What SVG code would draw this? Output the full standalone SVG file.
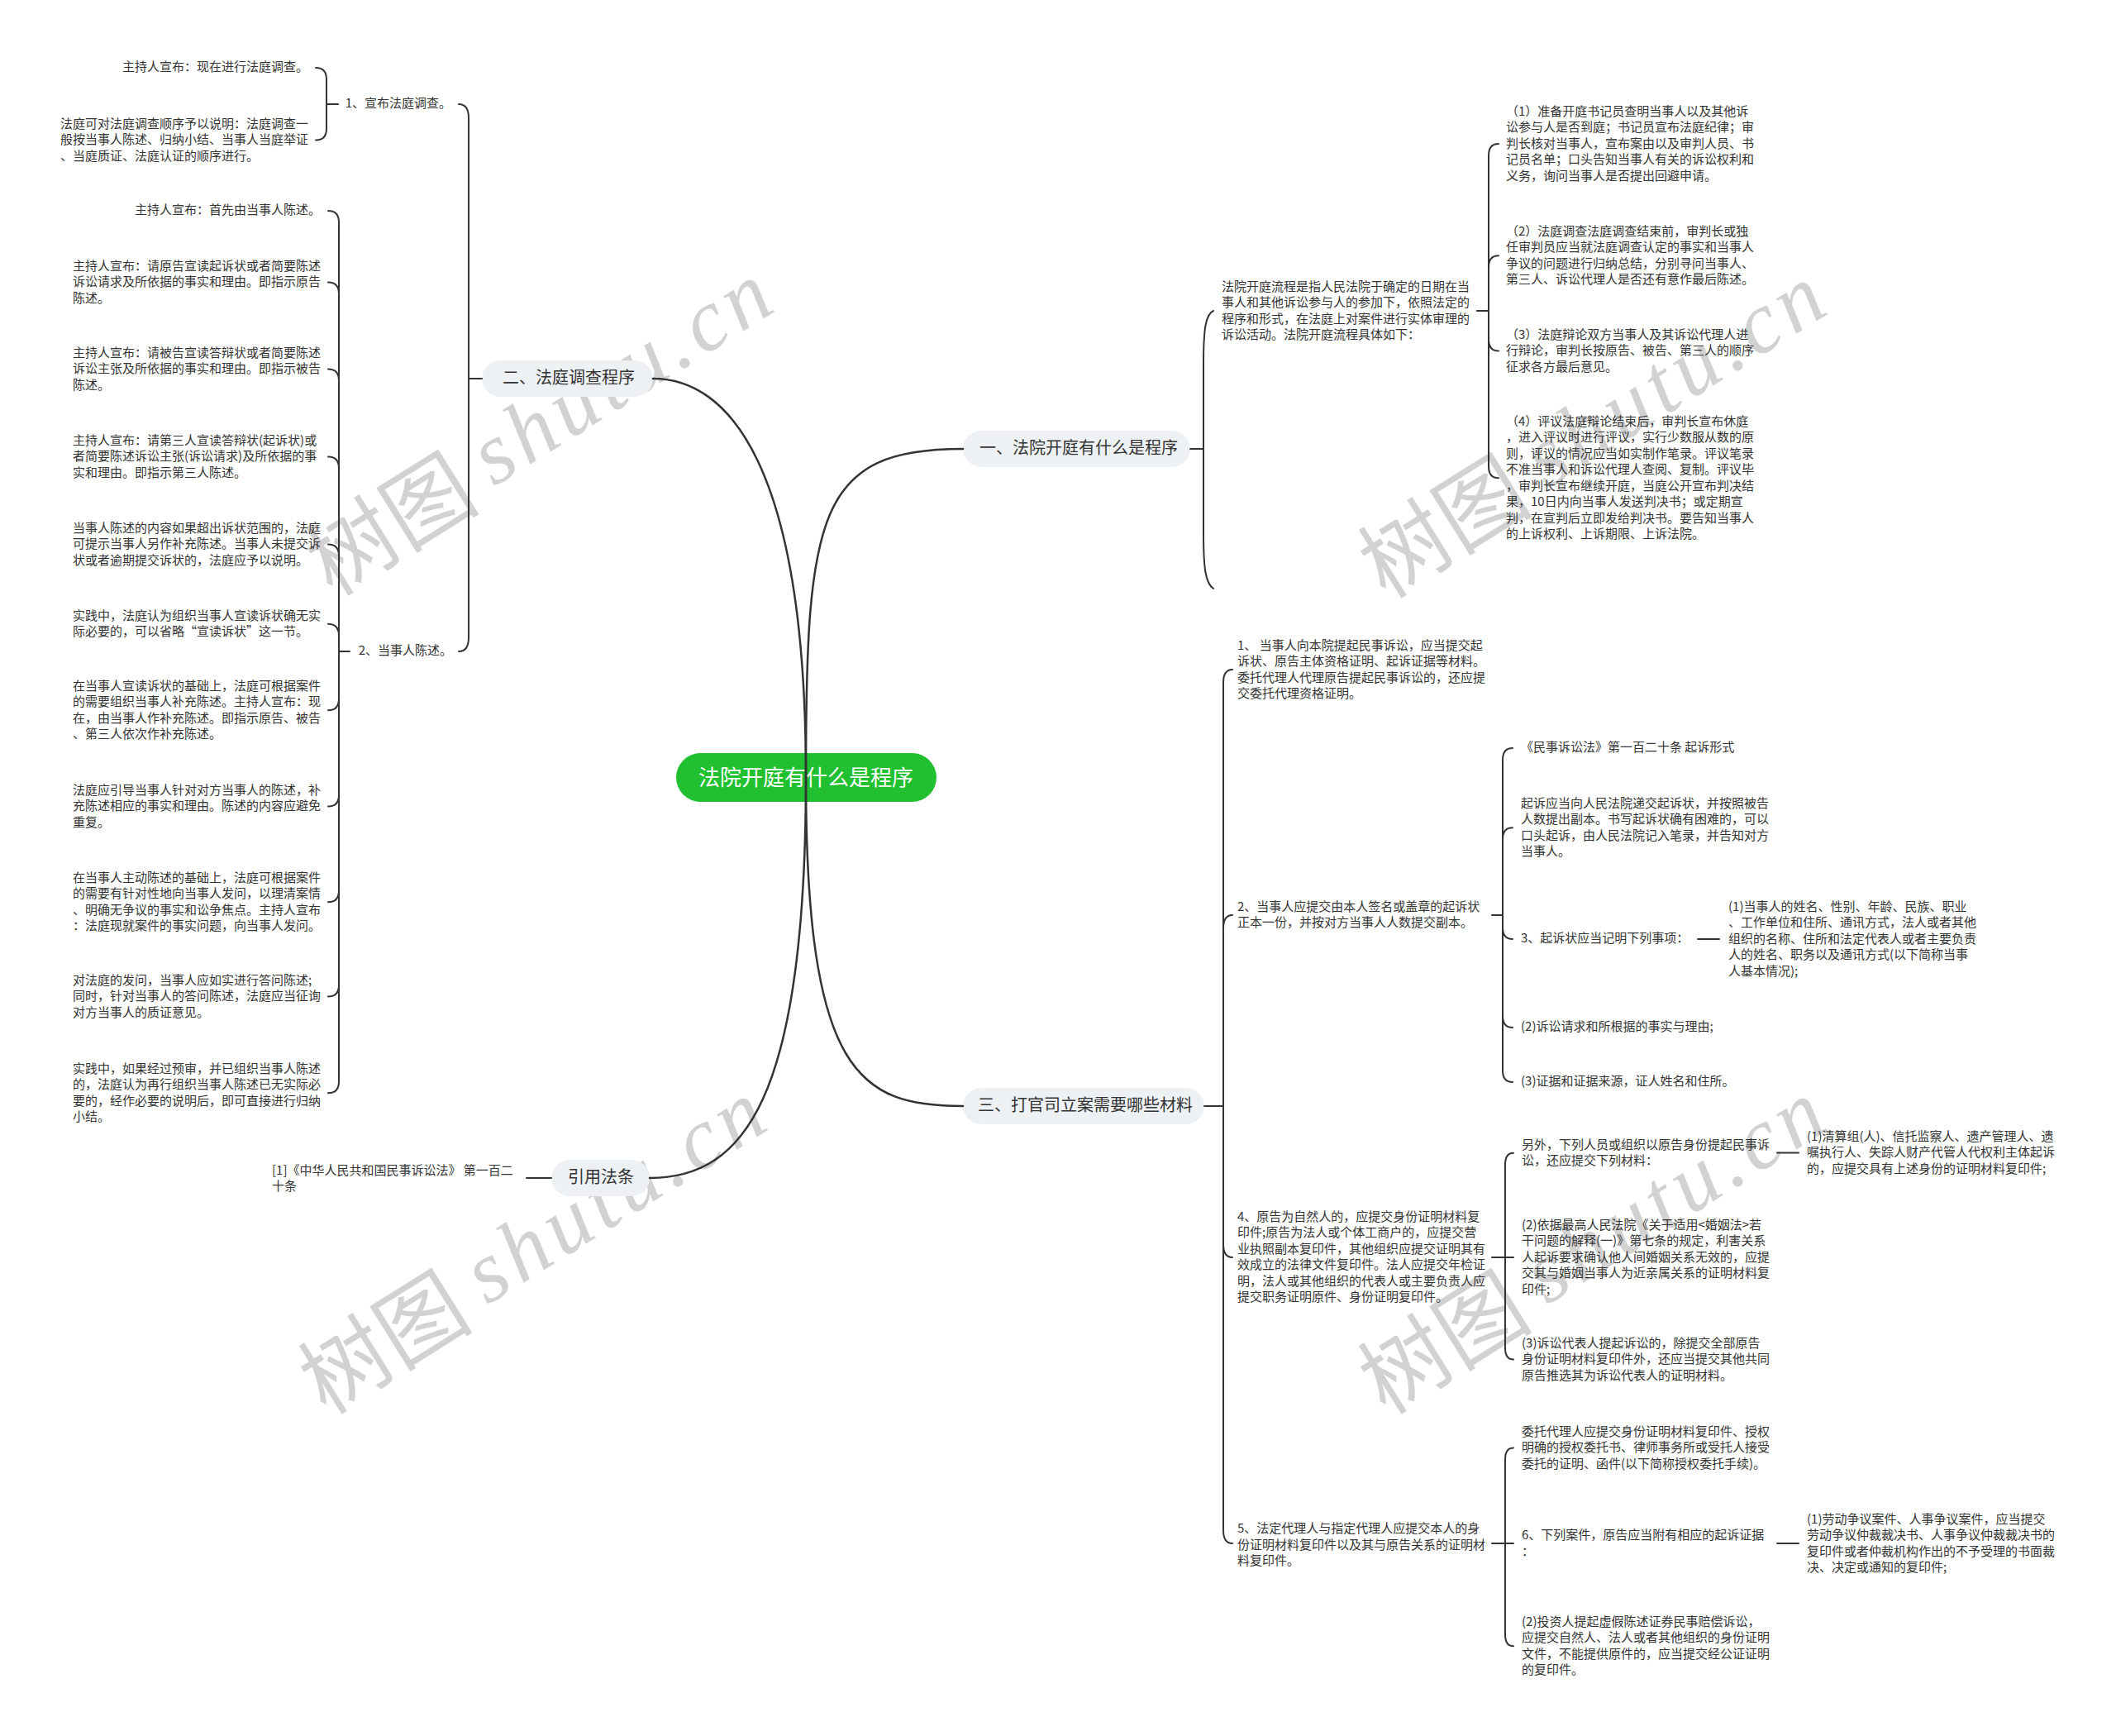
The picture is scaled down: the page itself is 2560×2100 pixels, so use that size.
<svg xmlns="http://www.w3.org/2000/svg" width="2560" height="2100" viewBox="0 0 2560 2100">
<style>
.t{font-family:'Noto Sans CJK SC','Noto Sans',sans-serif;font-size:15px;fill:#333;dominant-baseline:central;transform:translateY(-2.5px)}
.e{text-anchor:end}
.b{font-size:20px;text-anchor:middle}
.r{font-size:26px;fill:#fff;text-anchor:middle}
.pill{fill:#eef1f4}
.c{fill:none;stroke:#333;stroke-width:2;stroke-linecap:round}
.m{stroke-width:2.5}
.wm{fill:#d2d2d2;font-size:106px;text-anchor:middle;dominant-baseline:central}
.wc{font-family:'Noto Sans CJK SC',sans-serif}
.wl{font-family:'Liberation Serif',serif;font-style:italic;letter-spacing:7px}
</style>
<rect width="2560" height="2100" fill="#fff"/>
<g id="watermark">
<text class="wm" transform="translate(653,512) rotate(-32)"><tspan class="wc">树图 </tspan><tspan class="wl">shutu.cn</tspan></text>
<text class="wm" transform="translate(1927,515) rotate(-32)"><tspan class="wc">树图 </tspan><tspan class="wl">shutu.cn</tspan></text>
<text class="wm" transform="translate(645,1502) rotate(-32)"><tspan class="wc">树图 </tspan><tspan class="wl">shutu.cn</tspan></text>
<text class="wm" transform="translate(1927,1502) rotate(-32)"><tspan class="wc">树图 </tspan><tspan class="wl">shutu.cn</tspan></text>
</g>

<g id="root">
<rect x="818" y="911" width="315" height="59" rx="29.5" fill="#20c030"/>
<text class="t r" x="975" y="940.5">法院开庭有什么是程序</text>
</g>

<g id="b2">
<rect class="pill" x="583" y="436" width="207" height="44" rx="22"/>
<text class="t b" x="688" y="458">二、法庭调查程序</text>
</g>
<g id="b1">
<rect class="pill" x="1165" y="521" width="275" height="44" rx="22"/>
<text class="t b" x="1305" y="543">一、法院开庭有什么是程序</text>
</g>
<g id="b3">
<rect class="pill" x="1165" y="1316" width="292" height="44" rx="22"/>
<text class="t b" x="1313" y="1338">三、打官司立案需要哪些材料</text>
</g>
<g id="b4">
<rect class="pill" x="667" y="1403" width="119" height="44" rx="22"/>
<text class="t b" x="727" y="1425">引用法条</text>
</g>

<g id="n2-1"><text class="t e" x="546" y="126">1、宣布法庭调查。</text></g>
<g id="n2-1-1"><text class="t e" x="373" y="82">主持人宣布：现在进行法庭调查。</text></g>
<g id="n2-1-2"><text class="t"><tspan x="73" y="150">法庭可对法庭调查顺序予以说明：法庭调查一</tspan><tspan x="73" y="169.5">般按当事人陈述、归纳小结、当事人当庭举证</tspan><tspan x="73" y="189">、当庭质证、法庭认证的顺序进行。</tspan></text></g>

<g id="n2-2"><text class="t e" x="547" y="788">2、当事人陈述。</text></g>
<g id="n2-2-1"><text class="t e" x="388" y="255">主持人宣布：首先由当事人陈述。</text></g>
<g id="n2-2-2"><text class="t"><tspan x="88" y="322">主持人宣布：请原告宣读起诉状或者简要陈述</tspan><tspan x="88" y="341.5">诉讼请求及所依据的事实和理由。即指示原告</tspan><tspan x="88" y="361">陈述。</tspan></text></g>
<g id="n2-2-3"><text class="t"><tspan x="88" y="427">主持人宣布：请被告宣读答辩状或者简要陈述</tspan><tspan x="88" y="446.5">诉讼主张及所依据的事实和理由。即指示被告</tspan><tspan x="88" y="466">陈述。</tspan></text></g>
<g id="n2-2-4"><text class="t"><tspan x="88" y="533">主持人宣布：请第三人宣读答辩状(起诉状)或</tspan><tspan x="88" y="552.5">者简要陈述诉讼主张(诉讼请求)及所依据的事</tspan><tspan x="88" y="572">实和理由。即指示第三人陈述。</tspan></text></g>
<g id="n2-2-5"><text class="t"><tspan x="88" y="639">当事人陈述的内容如果超出诉状范围的，法庭</tspan><tspan x="88" y="658.5">可提示当事人另作补充陈述。当事人未提交诉</tspan><tspan x="88" y="678">状或者逾期提交诉状的，法庭应予以说明。</tspan></text></g>
<g id="n2-2-6"><text class="t"><tspan x="88" y="745">实践中，法庭认为组织当事人宣读诉状确无实</tspan><tspan x="88" y="764.5">际必要的，可以省略“宣读诉状”这一节。</tspan></text></g>
<g id="n2-2-7"><text class="t"><tspan x="88" y="830">在当事人宣读诉状的基础上，法庭可根据案件</tspan><tspan x="88" y="849.5">的需要组织当事人补充陈述。主持人宣布：现</tspan><tspan x="88" y="869">在，由当事人作补充陈述。即指示原告、被告</tspan><tspan x="88" y="888.5">、第三人依次作补充陈述。</tspan></text></g>
<g id="n2-2-8"><text class="t"><tspan x="88" y="956">法庭应引导当事人针对对方当事人的陈述，补</tspan><tspan x="88" y="975.5">充陈述相应的事实和理由。陈述的内容应避免</tspan><tspan x="88" y="995">重复。</tspan></text></g>
<g id="n2-2-9"><text class="t"><tspan x="88" y="1062">在当事人主动陈述的基础上，法庭可根据案件</tspan><tspan x="88" y="1081.5">的需要有针对性地向当事人发问，以理清案情</tspan><tspan x="88" y="1101">、明确无争议的事实和讼争焦点。主持人宣布</tspan><tspan x="88" y="1120.5">：法庭现就案件的事实问题，向当事人发问。</tspan></text></g>
<g id="n2-2-10"><text class="t"><tspan x="88" y="1186">对法庭的发问，当事人应如实进行答问陈述;</tspan><tspan x="88" y="1205.5">同时，针对当事人的答问陈述，法庭应当征询</tspan><tspan x="88" y="1225">对方当事人的质证意见。</tspan></text></g>
<g id="n2-2-11"><text class="t"><tspan x="88" y="1293">实践中，如果经过预审，并已组织当事人陈述</tspan><tspan x="88" y="1312.5">的，法庭认为再行组织当事人陈述已无实际必</tspan><tspan x="88" y="1332">要的，经作必要的说明后，即可直接进行归纳</tspan><tspan x="88" y="1351.5">小结。</tspan></text></g>

<g id="n4-1"><text class="t"><tspan x="329" y="1416">[1]《中华人民共和国民事诉讼法》 第一百二</tspan><tspan x="329" y="1435.5">十条</tspan></text></g>

<g id="n1-1"><text class="t"><tspan x="1478" y="347">法院开庭流程是指人民法院于确定的日期在当</tspan><tspan x="1478" y="366.5">事人和其他诉讼参与人的参加下，依照法定的</tspan><tspan x="1478" y="386">程序和形式，在法庭上对案件进行实体审理的</tspan><tspan x="1478" y="405.5">诉讼活动。法院开庭流程具体如下：</tspan></text></g>
<g id="n1-1-1"><text class="t"><tspan x="1822" y="135">（1）准备开庭书记员查明当事人以及其他诉</tspan><tspan x="1822" y="154.5">讼参与人是否到庭；书记员宣布法庭纪律；审</tspan><tspan x="1822" y="174">判长核对当事人，宣布案由以及审判人员、书</tspan><tspan x="1822" y="193.5">记员名单；口头告知当事人有关的诉讼权利和</tspan><tspan x="1822" y="213">义务，询问当事人是否提出回避申请。</tspan></text></g>
<g id="n1-1-2"><text class="t"><tspan x="1822" y="280">（2）法庭调查法庭调查结束前，审判长或独</tspan><tspan x="1822" y="299.5">任审判员应当就法庭调查认定的事实和当事人</tspan><tspan x="1822" y="319">争议的问题进行归纳总结，分别寻问当事人、</tspan><tspan x="1822" y="338.5">第三人、诉讼代理人是否还有意作最后陈述。</tspan></text></g>
<g id="n1-1-3"><text class="t"><tspan x="1822" y="405">（3）法庭辩论双方当事人及其诉讼代理人进</tspan><tspan x="1822" y="424.5">行辩论，审判长按原告、被告、第三人的顺序</tspan><tspan x="1822" y="444">征求各方最后意见。</tspan></text></g>
<g id="n1-1-4"><text class="t"><tspan x="1822" y="510">（4）评议法庭辩论结束后，审判长宣布休庭</tspan><tspan x="1822" y="529.5">，进入评议时进行评议，实行少数服从数的原</tspan><tspan x="1822" y="549">则，评议的情况应当如实制作笔录。评议笔录</tspan><tspan x="1822" y="568.5">不准当事人和诉讼代理人查阅、复制。评议毕</tspan><tspan x="1822" y="588">，审判长宣布继续开庭，当庭公开宣布判决结</tspan><tspan x="1822" y="607.5">果，10日内向当事人发送判决书；或定期宣</tspan><tspan x="1822" y="627">判，在宣判后立即发给判决书。要告知当事人</tspan><tspan x="1822" y="646.5">的上诉权利、上诉期限、上诉法院。</tspan></text></g>

<g id="n3-1"><text class="t"><tspan x="1497" y="781">1、 当事人向本院提起民事诉讼，应当提交起</tspan><tspan x="1497" y="800.5">诉状、原告主体资格证明、起诉证据等材料。</tspan><tspan x="1497" y="820">委托代理人代理原告提起民事诉讼的，还应提</tspan><tspan x="1497" y="839.5">交委托代理资格证明。</tspan></text></g>
<g id="n3-2"><text class="t"><tspan x="1497" y="1097">2、当事人应提交由本人签名或盖章的起诉状</tspan><tspan x="1497" y="1116.5">正本一份，并按对方当事人人数提交副本。</tspan></text></g>
<g id="n3-2-1"><text class="t" x="1840" y="905">《民事诉讼法》第一百二十条 起诉形式</text></g>
<g id="n3-2-2"><text class="t"><tspan x="1840" y="972">起诉应当向人民法院递交起诉状，并按照被告</tspan><tspan x="1840" y="991.5">人数提出副本。书写起诉状确有困难的，可以</tspan><tspan x="1840" y="1011">口头起诉，由人民法院记入笔录，并告知对方</tspan><tspan x="1840" y="1030.5">当事人。</tspan></text></g>
<g id="n3-2-3"><text class="t" x="1840" y="1136">3、起诉状应当记明下列事项：</text></g>
<g id="n3-2-3-1"><text class="t"><tspan x="2091" y="1097">(1)当事人的姓名、性别、年龄、民族、职业</tspan><tspan x="2091" y="1116.5">、工作单位和住所、通讯方式，法人或者其他</tspan><tspan x="2091" y="1136">组织的名称、住所和法定代表人或者主要负责</tspan><tspan x="2091" y="1155.5">人的姓名、职务以及通讯方式(以下简称当事</tspan><tspan x="2091" y="1175">人基本情况);</tspan></text></g>
<g id="n3-2-4"><text class="t" x="1840" y="1243">(2)诉讼请求和所根据的事实与理由;</text></g>
<g id="n3-2-5"><text class="t" x="1840" y="1309">(3)证据和证据来源，证人姓名和住所。</text></g>

<g id="n3-4"><text class="t"><tspan x="1497" y="1472">4、原告为自然人的，应提交身份证明材料复</tspan><tspan x="1497" y="1491.5">印件;原告为法人或个体工商户的，应提交营</tspan><tspan x="1497" y="1511">业执照副本复印件，其他组织应提交证明其有</tspan><tspan x="1497" y="1530.5">效成立的法律文件复印件。法人应提交年检证</tspan><tspan x="1497" y="1550">明，法人或其他组织的代表人或主要负责人应</tspan><tspan x="1497" y="1569.5">提交职务证明原件、身份证明复印件。</tspan></text></g>
<g id="n3-4-1"><text class="t"><tspan x="1841" y="1385">另外，下列人员或组织以原告身份提起民事诉</tspan><tspan x="1841" y="1404.5">讼，还应提交下列材料：</tspan></text></g>
<g id="n3-4-1-1"><text class="t"><tspan x="2186" y="1375">(1)清算组(人)、信托监察人、遗产管理人、遗</tspan><tspan x="2186" y="1394.5">嘱执行人、失踪人财产代管人代权利主体起诉</tspan><tspan x="2186" y="1414">的，应提交具有上述身份的证明材料复印件;</tspan></text></g>
<g id="n3-4-2"><text class="t"><tspan x="1841" y="1482">(2)依据最高人民法院《关于适用&lt;婚姻法&gt;若</tspan><tspan x="1841" y="1501.5">干问题的解释(一)》第七条的规定，利害关系</tspan><tspan x="1841" y="1521">人起诉要求确认他人间婚姻关系无效的，应提</tspan><tspan x="1841" y="1540.5">交其与婚姻当事人为近亲属关系的证明材料复</tspan><tspan x="1841" y="1560">印件;</tspan></text></g>
<g id="n3-4-3"><text class="t"><tspan x="1841" y="1625">(3)诉讼代表人提起诉讼的，除提交全部原告</tspan><tspan x="1841" y="1644.5">身份证明材料复印件外，还应当提交其他共同</tspan><tspan x="1841" y="1664">原告推选其为诉讼代表人的证明材料。</tspan></text></g>

<g id="n3-5"><text class="t"><tspan x="1497" y="1849.5">5、法定代理人与指定代理人应提交本人的身</tspan><tspan x="1497" y="1869">份证明材料复印件以及其与原告关系的证明材</tspan><tspan x="1497" y="1888.5">料复印件。</tspan></text></g>
<g id="n3-5-1"><text class="t"><tspan x="1841" y="1732">委托代理人应提交身份证明材料复印件、授权</tspan><tspan x="1841" y="1751.5">明确的授权委托书、律师事务所或受托人接受</tspan><tspan x="1841" y="1771">委托的证明、函件(以下简称授权委托手续)。</tspan></text></g>
<g id="n3-5-2"><text class="t"><tspan x="1841" y="1857.5">6、下列案件，原告应当附有相应的起诉证据</tspan><tspan x="1841" y="1877">：</tspan></text></g>
<g id="n3-5-2-1"><text class="t"><tspan x="2186" y="1838">(1)劳动争议案件、人事争议案件，应当提交</tspan><tspan x="2186" y="1857.5">劳动争议仲裁裁决书、人事争议仲裁裁决书的</tspan><tspan x="2186" y="1877">复印件或者仲裁机构作出的不予受理的书面裁</tspan><tspan x="2186" y="1896.5">决、决定或通知的复印件;</tspan></text></g>
<g id="n3-5-3"><text class="t"><tspan x="1841" y="1962">(2)投资人提起虚假陈述证券民事赔偿诉讼，</tspan><tspan x="1841" y="1981.5">应提交自然人、法人或者其他组织的身份证明</tspan><tspan x="1841" y="2001">文件，不能提供原件的，应当提交经公证证明</tspan><tspan x="1841" y="2020.5">的复印件。</tspan></text></g>

<g id="connectors">
<path class="c m" d="M975 940 C975 560 880 458 790 458"/>
<path class="c m" d="M975 940 C975 620 990 543 1165 543"/>
<path class="c m" d="M975 940 C975 1300 1040 1338 1165 1338"/>
<path class="c m" d="M975 940 C975 1330 900 1425 786 1425"/>

<path class="c" d="M583 458 H567 M567 458 V143 Q567 126 555 126 M567 458 V771 Q567 788 555 788"/>
<path class="c" d="M409 126 H395 M395 126 V96 Q395 82 382 82 M395 126 V155.5 Q395 169.5 382 169.5"/>
<path class="c" d="M423 788 H410
M410 788 V269 Q410 255 397 255
M410 788 V355.5 Q410 341.5 397 341.5
M410 788 V460.5 Q410 446.5 397 446.5
M410 788 V566.5 Q410 552.5 397 552.5
M410 788 V672.5 Q410 658.5 397 658.5
M410 788 V768.75 Q410 754.75 397 754.75
M410 788 V845.25 Q410 859.25 397 859.25
M410 788 V961.5 Q410 975.5 397 975.5
M410 788 V1077.25 Q410 1091.25 397 1091.25
M410 788 V1191.5 Q410 1205.5 397 1205.5
M410 788 V1308.25 Q410 1322.25 397 1322.25"/>
<path class="c" d="M667 1425 H637"/>

<path class="c" d="M1440 543 H1456 M1456 543 V440 C1456 396 1459 380 1468 376 M1456 543 V646 C1456 690 1459 706 1468 712"/>
<path class="c" d="M1787 376 H1801
M1801 376 V188 Q1801 174 1813 174
M1801 376 V323.25 Q1801 309.25 1813 309.25
M1801 376 V410.5 Q1801 424.5 1813 424.5
M1801 376 V564.25 Q1801 578.25 1813 578.25"/>

<path class="c" d="M1457 1338 H1480
M1480 1338 V826 Q1480 810 1491 810
M1480 1338 V1123 Q1480 1107 1491 1107
M1480 1338 V1505 Q1480 1521 1491 1521
M1480 1338 V1851 Q1480 1867 1491 1867"/>
<path class="c" d="M1805 1107 H1818
M1818 1107 V919 Q1818 905 1830 905
M1818 1107 V1015.25 Q1818 1001.25 1830 1001.25
M1818 1107 V1122 Q1818 1136 1830 1136
M1818 1107 V1229 Q1818 1243 1830 1243
M1818 1107 V1295 Q1818 1309 1830 1309"/>
<path class="c" d="M2054 1136 H2080"/>
<path class="c" d="M1805 1521 H1831
M1821 1521 V1408.75 Q1821 1394.75 1831 1394.75
M1821 1521 V1630.5 Q1821 1644.5 1831 1644.5"/>
<path class="c" d="M2150 1394.5 H2176"/>
<path class="c" d="M1805 1867 H1831
M1821 1867 V1765.5 Q1821 1751.5 1831 1751.5
M1821 1867 V1977.25 Q1821 1991.25 1831 1991.25"/>
<path class="c" d="M2150 1867 H2176"/>
</g>
</svg>
